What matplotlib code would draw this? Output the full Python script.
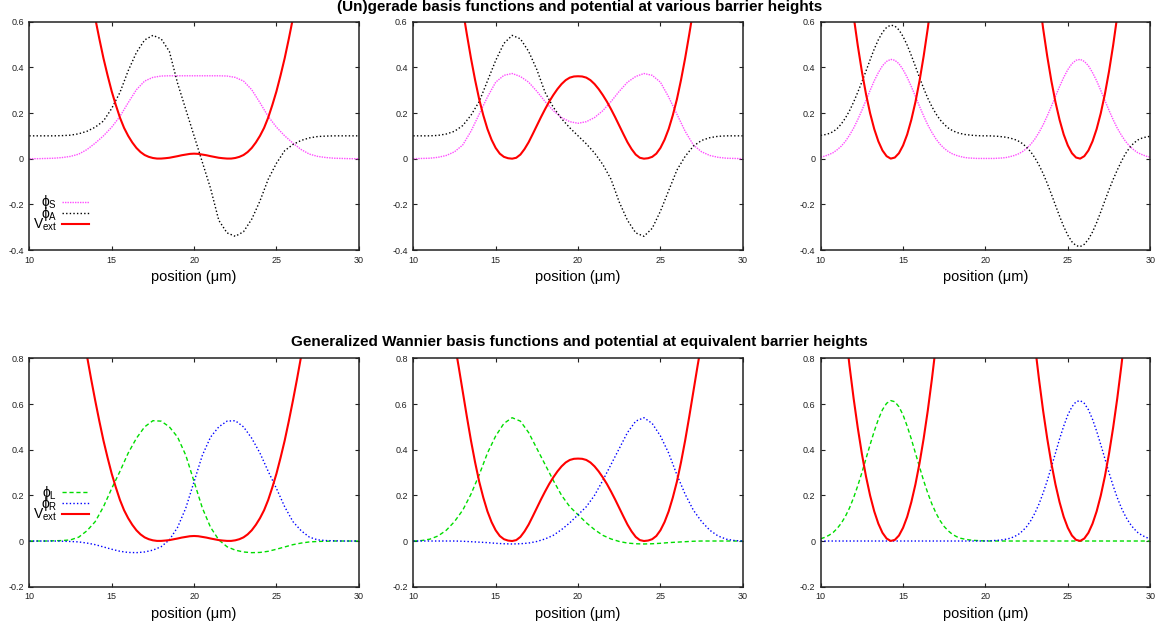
import numpy as np
import matplotlib
matplotlib.use('Agg')
import matplotlib.pyplot as plt
from matplotlib.ticker import FuncFormatter

plt.rcParams['font.family'] = ['Liberation Sans', 'DejaVu Sans']
plt.rcParams['mathtext.default'] = 'regular'
plt.rcParams['axes.unicode_minus'] = False

# sample positions (um)
x = np.linspace(10, 30, 41)       # 0.5 um steps
x_fine = np.linspace(10, 30, 81)  # 0.25 um steps

# external potentials (sampled on x_fine), low / medium / high barrier
V_low = [3.0, 2.8, 2.6, 2.42, 2.25, 2.07, 1.9, 1.74, 1.58, 1.44, 1.3, 1.17, 1.05, 0.93, 0.81,
         0.71, 0.615, 0.525, 0.44, 0.365, 0.295, 0.235, 0.18, 0.135, 0.1, 0.071, 0.047,
         0.029, 0.016, 0.008, 0.003, 0.0005, 0.0005, 0.002, 0.004, 0.0075, 0.011, 0.015,
         0.018, 0.021, 0.022, 0.021, 0.018, 0.015, 0.011, 0.0075, 0.004, 0.002, 0.0005,
         0.0005, 0.003, 0.008, 0.016, 0.029, 0.047, 0.071, 0.1, 0.135, 0.18, 0.235, 0.295,
         0.365, 0.44, 0.525, 0.615, 0.71, 0.81, 0.93, 1.05, 1.17, 1.3, 1.44, 1.58, 1.74,
         1.9, 2.07, 2.25, 2.42, 2.6, 2.8, 3.0]
V_mid = [2.1, 1.95, 1.8, 1.67, 1.55, 1.42, 1.3, 1.19, 1.08, 0.975, 0.87, 0.765, 0.655, 0.545,
         0.44, 0.345, 0.26, 0.19, 0.13, 0.083, 0.047, 0.022, 0.008, 0.002, 0.0, 0.004, 0.018,
         0.042, 0.072, 0.108, 0.145, 0.182, 0.217, 0.25, 0.279, 0.305, 0.327, 0.344, 0.355,
         0.36, 0.361, 0.36, 0.355, 0.344, 0.327, 0.305, 0.279, 0.25, 0.217, 0.182, 0.145,
         0.108, 0.072, 0.042, 0.018, 0.004, 0.0, 0.002, 0.008, 0.022, 0.047, 0.083, 0.13,
         0.19, 0.26, 0.345, 0.44, 0.545, 0.655, 0.765, 0.87, 0.975, 1.08, 1.19, 1.3, 1.42,
         1.55, 1.67, 1.8, 1.95, 2.1]
V_high = [2.18, 1.94, 1.70, 1.49, 1.285, 1.10, 0.925, 0.767, 0.624, 0.496, 0.382, 0.283,
          0.199, 0.130, 0.076, 0.036, 0.011, 0.0003, 0.005, 0.024, 0.058, 0.106, 0.170,
          0.248, 0.341, 0.449, 0.571, 0.709, 0.86, 1.03, 1.21, 1.40, 1.58, 1.75, 1.90,
          2.03, 2.14, 2.22, 2.28, 2.31, 2.32, 2.31, 2.28, 2.22, 2.14, 2.03, 1.90, 1.75,
          1.58, 1.40, 1.21, 1.03, 0.86, 0.709, 0.571, 0.449, 0.341, 0.248, 0.170, 0.106,
          0.058, 0.024, 0.005, 0.0003, 0.011, 0.036, 0.076, 0.130, 0.199, 0.283, 0.382,
          0.496, 0.624, 0.767, 0.925, 1.10, 1.285, 1.49, 1.70, 1.94, 2.18]

# gerade (S) and ungerade (A, drawn shifted by +0.1) states
phiS_low = [0.0, 0.0, 0.001, 0.002, 0.005, 0.01, 0.02, 0.04, 0.068, 0.1, 0.138, 0.185,
            0.245, 0.302, 0.34, 0.356, 0.362, 0.363, 0.363, 0.363, 0.363, 0.363, 0.363,
            0.363, 0.362, 0.356, 0.34, 0.302, 0.245, 0.185, 0.138, 0.1, 0.068, 0.04, 0.02,
            0.01, 0.005, 0.002, 0.001, 0.0, 0.0]
phiA_low = [0.1, 0.1, 0.1, 0.1, 0.101, 0.103, 0.109, 0.12, 0.138, 0.165, 0.22, 0.29, 0.385,
            0.465, 0.52, 0.54, 0.525, 0.47, 0.33, 0.215, 0.1, -0.015, -0.13, -0.27, -0.325,
            -0.34, -0.32, -0.265, -0.185, -0.09, -0.02, 0.035, 0.062, 0.08, 0.091, 0.097,
            0.099, 0.1, 0.1, 0.1, 0.1]
phiS_mid = [0.0, 0.001, 0.002, 0.006, 0.014, 0.03, 0.06, 0.12, 0.195, 0.27, 0.335, 0.365,
            0.373, 0.36, 0.335, 0.295, 0.25, 0.21, 0.18, 0.162, 0.155, 0.162, 0.18, 0.21,
            0.25, 0.295, 0.335, 0.36, 0.373, 0.365, 0.335, 0.27, 0.195, 0.12, 0.06, 0.03,
            0.014, 0.006, 0.002, 0.001, 0.0]
phiA_mid = [0.1, 0.1, 0.1, 0.102, 0.108, 0.12, 0.145, 0.19, 0.25, 0.34, 0.43, 0.505, 0.54,
            0.525, 0.47, 0.39, 0.29, 0.225, 0.175, 0.135, 0.1, 0.065, 0.025, -0.025, -0.09,
            -0.19, -0.27, -0.325, -0.34, -0.305, -0.23, -0.14, -0.05, 0.01, 0.055, 0.08,
            0.092, 0.098, 0.1, 0.1, 0.1]
phiS_high = [0.007, 0.011, 0.018, 0.026, 0.039, 0.055, 0.076, 0.103, 0.134, 0.171, 0.212,
             0.255, 0.299, 0.341, 0.377, 0.407, 0.426, 0.435, 0.431, 0.416, 0.390, 0.356,
             0.316, 0.273, 0.229, 0.187, 0.148, 0.115, 0.086, 0.063, 0.045, 0.031, 0.021,
             0.014, 0.009, 0.005, 0.003, 0.002, 0.001, 0.001, 0.001, 0.001, 0.001, 0.002,
             0.003, 0.005, 0.009, 0.014, 0.021, 0.031, 0.045, 0.063, 0.086, 0.115, 0.148,
             0.187, 0.229, 0.273, 0.316, 0.356, 0.390, 0.416, 0.431, 0.435, 0.426, 0.407,
             0.377, 0.341, 0.299, 0.255, 0.212, 0.171, 0.134, 0.103, 0.076, 0.055, 0.039,
             0.026, 0.018, 0.011, 0.007]
phiA_high = [0.102, 0.105, 0.110, 0.118, 0.132, 0.152, 0.178, 0.210, 0.248, 0.291, 0.336,
             0.384, 0.433, 0.480, 0.521, 0.553, 0.575, 0.585, 0.581, 0.564, 0.535, 0.497,
             0.452, 0.404, 0.355, 0.308, 0.265, 0.228, 0.196, 0.170, 0.150, 0.134, 0.123,
             0.115, 0.110, 0.106, 0.104, 0.102, 0.101, 0.100, 0.100, 0.100, 0.099, 0.098,
             0.096, 0.094, 0.090, 0.085, 0.077, 0.066, 0.050, 0.030, 0.004, -0.028, -0.065,
             -0.108, -0.155, -0.204, -0.252, -0.297, -0.335, -0.364, -0.381, -0.385, -0.375,
             -0.353, -0.321, -0.280, -0.233, -0.184, -0.136, -0.091, -0.050, -0.012, 0.022,
             0.048, 0.068, 0.082, 0.090, 0.095, 0.098]

# generalized Wannier functions, left / right
phiL_low = [0.0, 0.0, 0.0, 0.001, 0.002, 0.005, 0.017, 0.045, 0.085, 0.15, 0.23, 0.305,
            0.385, 0.45, 0.5, 0.527, 0.525, 0.5, 0.455, 0.375, 0.26, 0.145, 0.06, 0.005,
            -0.025, -0.04, -0.048, -0.051, -0.05, -0.045, -0.036, -0.026, -0.016, -0.009,
            -0.004, -0.002, -0.001, 0.0, 0.0, 0.0, 0.0]
phiR_low = [0.0, 0.0, 0.0, 0.0, -0.001, -0.002, -0.004, -0.009, -0.016, -0.026, -0.036,
            -0.045, -0.05, -0.051, -0.048, -0.04, -0.025, 0.005, 0.06, 0.145, 0.26, 0.375,
            0.455, 0.5, 0.525, 0.527, 0.5, 0.45, 0.385, 0.305, 0.23, 0.15, 0.085, 0.045,
            0.017, 0.005, 0.002, 0.001, 0.0, 0.0, 0.0]
phiL_mid = [0.0, 0.002, 0.008, 0.022, 0.047, 0.085, 0.135, 0.205, 0.29, 0.385, 0.46, 0.515,
            0.54, 0.525, 0.475, 0.405, 0.335, 0.265, 0.2, 0.15, 0.115, 0.08, 0.05, 0.025,
            0.009, -0.002, -0.009, -0.012, -0.013, -0.012, -0.01, -0.007, -0.005, -0.003,
            -0.001, 0.0, 0.0, 0.0, 0.0, 0.0, 0.0]
phiR_mid = [0.0, 0.0, 0.0, 0.0, 0.0, 0.0, -0.001, -0.003, -0.005, -0.007, -0.01, -0.012,
            -0.013, -0.012, -0.009, -0.002, 0.009, 0.025, 0.05, 0.08, 0.115, 0.15, 0.2,
            0.265, 0.335, 0.405, 0.475, 0.525, 0.54, 0.515, 0.46, 0.385, 0.29, 0.205, 0.135,
            0.085, 0.047, 0.022, 0.008, 0.002, 0.0]
phiL_high = [0.010, 0.016, 0.025, 0.037, 0.055, 0.078, 0.108, 0.145, 0.190, 0.242, 0.299,
             0.361, 0.422, 0.481, 0.533, 0.575, 0.603, 0.615, 0.610, 0.588, 0.552, 0.503,
             0.447, 0.385, 0.324, 0.264, 0.210, 0.162, 0.122, 0.089, 0.063, 0.044, 0.029,
             0.019, 0.012, 0.008, 0.005, 0.003, 0.002, 0.001, 0.0, 0.0, 0.0, 0.0, 0.0, 0.0,
             0.0, 0.0, 0.0, 0.0, 0.0, 0.0, 0.0, 0.0, 0.0, 0.0, 0.0, 0.0, 0.0, 0.0, 0.0, 0.0,
             0.0, 0.0, 0.0, 0.0, 0.0, 0.0, 0.0, 0.0, 0.0, 0.0, 0.0, 0.0, 0.0, 0.0, 0.0, 0.0,
             0.0, 0.0, 0.0]
phiR_high = [0.0, 0.0, 0.0, 0.0, 0.0, 0.0, 0.0, 0.0, 0.0, 0.0, 0.0, 0.0, 0.0, 0.0, 0.0,
             0.0, 0.0, 0.0, 0.0, 0.0, 0.0, 0.0, 0.0, 0.0, 0.0, 0.0, 0.0, 0.0, 0.0, 0.0, 0.0,
             0.0, 0.0, 0.0, 0.0, 0.0, 0.0, 0.0, 0.0, 0.0, 0.0, 0.001, 0.002, 0.003, 0.005,
             0.008, 0.012, 0.019, 0.029, 0.044, 0.063, 0.089, 0.122, 0.162, 0.210, 0.264,
             0.324, 0.385, 0.447, 0.503, 0.552, 0.588, 0.610, 0.615, 0.603, 0.575, 0.533,
             0.481, 0.422, 0.361, 0.299, 0.242, 0.190, 0.145, 0.108, 0.078, 0.055, 0.037,
             0.025, 0.016, 0.010]

title_top = '(Un)gerade basis functions and potential at various barrier heights'
title_bottom = 'Generalized Wannier basis functions and potential at equivalent barrier heights'
xlabel = 'position (\u03bcm)'

red = '#ff0000'
magenta = '#ff4cff'
green = '#00dd00'
blue = '#0000ff'

fig = plt.figure(figsize=(11.59, 6.23), dpi=100)

lefts = [0.0253, 0.3566, 0.7081]
width = 0.2843
row_bottoms = [0.5987, 0.0583]
height = 0.3665


def fmt(v, pos):
    return '%g' % round(v, 2)


def style_axes(ax, ylim, yticks):
    ax.set_xlim(10, 30)
    ax.set_ylim(*ylim)
    ax.set_xticks([10, 15, 20, 25, 30])
    ax.set_yticks(yticks)
    ax.xaxis.set_major_formatter(FuncFormatter(fmt))
    ax.yaxis.set_major_formatter(FuncFormatter(fmt))
    ax.tick_params(direction='in', length=3, width=0.8, labelsize=6.5, pad=4,
                   top=True, right=True, colors='#222222')
    for s in ax.spines.values():
        s.set_linewidth(1.1)
        s.set_color('#222222')
    ax.set_xlabel(xlabel, fontsize=10.5, labelpad=4)


top_sets = [(x, V_low, phiS_low, phiA_low),
            (x, V_mid, phiS_mid, phiA_mid),
            (x_fine, V_high, phiS_high, phiA_high)]
bottom_sets = [(x, V_low, phiL_low, phiR_low),
               (x, V_mid, phiL_mid, phiR_mid),
               (x_fine, V_high, phiL_high, phiR_high)]

leg_kw = dict(loc='lower left', frameon=False, markerfirst=False, fontsize=10,
              handlelength=1.9, handletextpad=0.35, labelspacing=-0.45,
              borderpad=0, borderaxespad=0)

for i, (xs, V, s, a) in enumerate(top_sets):
    ax = fig.add_axes([lefts[i], row_bottoms[0], width, height])
    hs, = ax.plot(xs, s, color=magenta, lw=1.0, ls=(0, (1, 0.8)))
    ha, = ax.plot(xs, a, color='black', lw=1.0, ls=(0, (1, 1.6)))
    hv, = ax.plot(x_fine, V, color=red, lw=1.5)
    style_axes(ax, (-0.4, 0.6), [-0.4, -0.2, 0, 0.2, 0.4, 0.6])
    if i == 0:
        ax.legend([hs, ha, hv], [r'$\phi_S$', r'$\phi_A$', r'$V_{ext}$'],
                  bbox_to_anchor=(0.011, 0.073), **leg_kw)

for i, (xs, V, l, r) in enumerate(bottom_sets):
    ax = fig.add_axes([lefts[i], row_bottoms[1], width, height])
    hl, = ax.plot(xs, l, color=green, lw=1.0, ls=(0, (3, 2)))
    hr, = ax.plot(xs, r, color=blue, lw=1.0, ls=(0, (1, 1.6)))
    hv, = ax.plot(x_fine, V, color=red, lw=1.5)
    style_axes(ax, (-0.2, 0.8), [-0.2, 0, 0.2, 0.4, 0.6, 0.8])
    if i == 0:
        ax.legend([hl, hr, hv], [r'$\phi_L$', r'$\phi_R$', r'$V_{ext}$'],
                  bbox_to_anchor=(0.011, 0.277), **leg_kw)

fig.text(0.5, 0.9888, title_top, ha='center', va='center', fontsize=11, fontweight='bold')
fig.text(0.5, 0.451, title_bottom, ha='center', va='center', fontsize=11, fontweight='bold')

fig.savefig('out.png', dpi=100)
